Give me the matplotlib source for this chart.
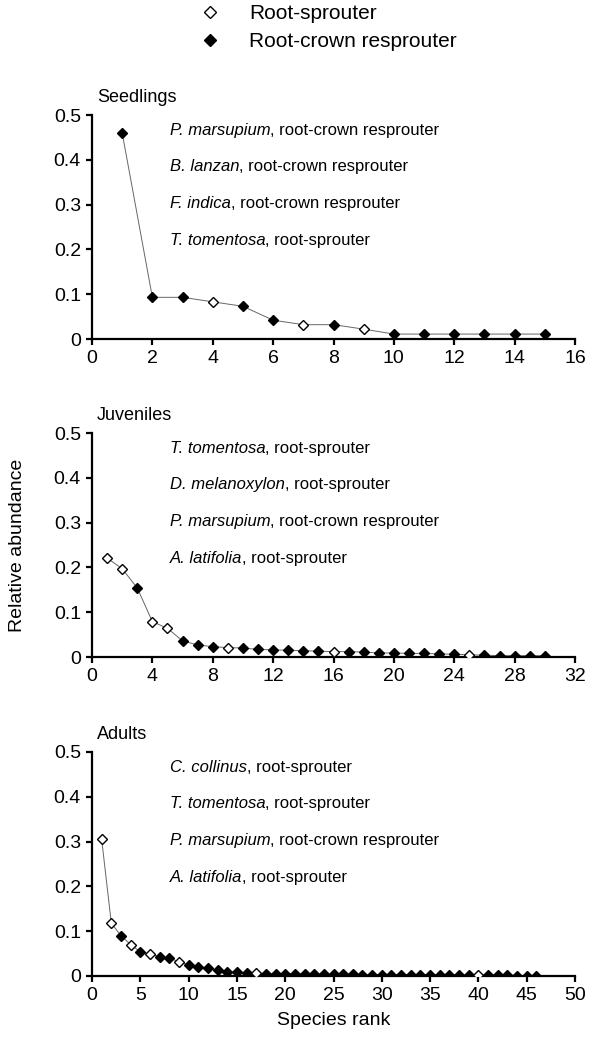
import matplotlib
matplotlib.use("Agg")
import matplotlib.pyplot as plt
from matplotlib.lines import Line2D
import numpy as np

plt.rcParams["font.family"] = ["Liberation Sans", "DejaVu Sans"]

# relative abundance by species rank (rank = index + 1)
seedling_vals = [0.460, 0.093, 0.093, 0.083, 0.073, 0.042, 0.032, 0.032, 0.022,
                 0.011, 0.011, 0.011, 0.011, 0.011, 0.011]
seedling_open = [4, 7, 9]

juvenile_vals = [0.221, 0.197, 0.154, 0.079, 0.064, 0.036, 0.027, 0.023, 0.021,
                 0.020, 0.017, 0.016, 0.015, 0.014, 0.013, 0.012, 0.012, 0.011,
                 0.009, 0.009, 0.008, 0.008, 0.007, 0.006, 0.005, 0.004, 0.003,
                 0.003, 0.003, 0.003]
juvenile_open = [1, 2, 4, 5, 9, 16, 25]

adult_vals = [0.305, 0.118, 0.090, 0.070, 0.054, 0.049, 0.043, 0.040, 0.032,
              0.025, 0.021, 0.017, 0.013, 0.010, 0.008, 0.007, 0.006,
              0.005, 0.005, 0.005, 0.005, 0.004, 0.004, 0.004, 0.004, 0.004,
              0.004, 0.003, 0.003, 0.003, 0.003, 0.003, 0.003, 0.003, 0.003,
              0.002, 0.002, 0.002, 0.002, 0.002, 0.002, 0.002, 0.002, 0.001,
              0.001, 0.001]
adult_open = [1, 2, 4, 6, 9, 17, 40]

seedling_notes = [("P. marsupium", "root-crown resprouter"),
                  ("B. lanzan", "root-crown resprouter"),
                  ("F. indica", "root-crown resprouter"),
                  ("T. tomentosa", "root-sprouter")]
juvenile_notes = [("T. tomentosa", "root-sprouter"),
                  ("D. melanoxylon", "root-sprouter"),
                  ("P. marsupium", "root-crown resprouter"),
                  ("A. latifolia", "root-sprouter")]
adult_notes = [("C. collinus", "root-sprouter"),
               ("T. tomentosa", "root-sprouter"),
               ("P. marsupium", "root-crown resprouter"),
               ("A. latifolia", "root-sprouter")]

panels = [
    ("Seedlings", seedling_vals, seedling_open, seedling_notes, 16, 2),
    ("Juveniles", juvenile_vals, juvenile_open, juvenile_notes, 32, 4),
    ("Adults", adult_vals, adult_open, adult_notes, 50, 5),
]

W, H = 590, 1048
fig = plt.figure(figsize=(W / 100, H / 100), dpi=100)

left = 92 / W
width = (575 - 92) / W
height = 224 / H
bottoms = [1 - 339 / H, 1 - 657 / H, 1 - 976 / H]

for (title, vals, open_ranks, notes, xmax, xstep), b in zip(panels, bottoms):
    ax = fig.add_axes([left, b, width, height])
    ranks = np.arange(1, len(vals) + 1)
    vals = np.array(vals)
    is_open = np.isin(ranks, open_ranks)

    ax.plot(ranks, vals, color="#666666", lw=0.7, zorder=2)
    ax.plot(ranks[~is_open], vals[~is_open], "D", ms=5.5, mfc="black",
            mec="black", mew=1, ls="none", zorder=3)
    ax.plot(ranks[is_open], vals[is_open], "D", ms=5.5, mfc="white",
            mec="black", mew=1, ls="none", zorder=3)

    ax.set_xlim(0, xmax)
    ax.set_ylim(0, 0.5)
    ax.set_xticks(np.arange(0, xmax + 1, xstep))
    ax.set_yticks([0, 0.1, 0.2, 0.3, 0.4, 0.5])
    ax.set_yticklabels(["0", "0.1", "0.2", "0.3", "0.4", "0.5"])
    for s in ["top", "right"]:
        ax.spines[s].set_visible(False)
    for s in ["left", "bottom"]:
        ax.spines[s].set_linewidth(1.6)
    ax.tick_params(direction="out", length=4, width=1.6, labelsize=14, pad=4)
    for sp in ax.spines.values():
        sp.set_clip_on(False)

    ax.text(0.01, 1.08, title, transform=ax.transAxes, fontsize=13,
            ha="left", va="center")
    # italic species name, then the sprouting type in upright text
    for i, (sp_name, kind) in enumerate(notes):
        t = ax.text(0.161, 0.933 - i * 0.164, sp_name, transform=ax.transAxes,
                    fontsize=12, fontstyle="italic", ha="left", va="center")
        ax.annotate(f", {kind}", xy=(1, 0.5), xycoords=t, fontsize=12,
                    ha="left", va="center")

    if title == "Adults":
        ax.set_xlabel("Species rank", fontsize=14, labelpad=6)

fig.text(18 / W, 1 - 545 / H, "Relative abundance", rotation=90,
         fontsize=14, ha="center", va="center")

handles = [
    Line2D([], [], marker="D", ms=6, mfc="white", mec="black", mew=1, ls="none"),
    Line2D([], [], marker="D", ms=6, mfc="black", mec="black", mew=1, ls="none"),
]
fig.legend(handles, ["Root-sprouter", "Root-crown resprouter"],
           loc="upper left", bbox_to_anchor=(200 / W, 1 - 4 / H),
           frameon=False, fontsize=15, handlelength=1, handletextpad=1.35,
           borderpad=0, borderaxespad=0, labelspacing=0.45)

fig.savefig("out.png", dpi=100)
